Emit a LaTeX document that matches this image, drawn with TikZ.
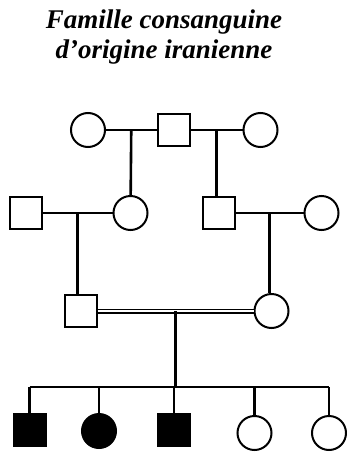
\documentclass[tikz,border=0pt]{standalone}
\usepackage{fontspec}
\setmainfont{Liberation Serif}
\usepackage{tikz}
\usetikzlibrary{positioning, calc}

\begin{document}
\begin{tikzpicture}[
  x=1pt, y=-1pt,
  male/.style={draw, rectangle, minimum size=32pt, inner sep=0pt, line width=2pt},
  female/.style={draw, circle, minimum size=34pt, inner sep=0pt, line width=2pt},
  affected/.style={fill=black},
  link/.style={line width=2.6pt},
  title/.style={font=\bfseries\itshape\fontsize{27}{30}\selectfont, align=center},
]
\useasboundingbox (0,0) rectangle (346,453);

% --- Title ---
\node[title] (ttl) at (164,37) {Famille consanguine\\d'origine iranienne};

% --- Generation I ---
\node[female] (i1) at (88,130) {};
\node[male] (i2) at (173.5,130) {};
\node[female] (i3) at (260.5,130) {};

% --- Generation II ---
\node[male] (ii1) at (26,213) {};
\node[female] (ii2) at (130.5,213) {};
\node[male] (ii3) at (219,213) {};
\node[female] (ii4) at (321.5,213) {};

% --- Generation III ---
\node[male] (iii1) at (80.5,311) {};
\node[female] (iii2) at (271.5,311) {};

% --- Generation IV ---
\node[male, affected] (iv1) at (29.5,430) {};
\node[female, affected] (iv2) at (99,431) {};
\node[male, affected] (iv3) at (174,430) {};
\node[female] (iv4) at (254.5,433) {};
\node[female] (iv5) at (329,433) {};

% Couples
\draw[link] (i1) -- (i2) coordinate[midway] (c1);
\draw[link] (i2) -- (i3) coordinate[midway] (c2);
\draw[link] (ii1) -- (ii2) coordinate[midway] (c3);
\draw[link] (ii3) -- (ii4) coordinate[midway] (c4);
\draw[line width=1.4pt, double, double distance=2.2pt] (iii1) -- (iii2) coordinate[midway] (c5);

% Descent
\draw[link] (c1) -- (ii2);
\draw[link] (c2) -- (c2 |- ii3.north);
\draw[link] (c3) -- (c3 |- iii1.north);
\draw[link] (c4) -- (c4 |- iii2.north);

% Sibship
\coordinate (sib) at (174,387);
\draw[link] (c5) -- (c5 |- sib);
\draw[link] (iv1.north |- sib) -- (iv5.north |- sib);
\foreach \k in {1,...,5}
  \draw[link] (iv\k.north |- sib) -- (iv\k.north);
\end{tikzpicture}
\end{document}
